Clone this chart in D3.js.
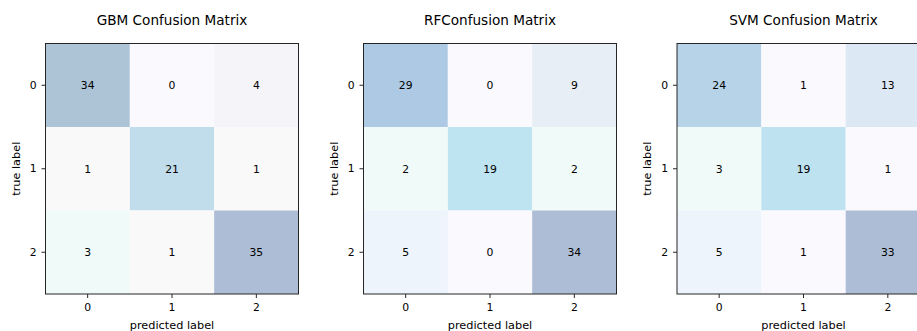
<!DOCTYPE html>
<html>
<head>
<meta charset="utf-8">
<script src="https://cdn.jsdelivr.net/npm/d3@7"></script>
<style>
  body { margin: 0; background: #fff; }
  text { font-family: "DejaVu Sans", sans-serif; fill: #000; }
</style>
</head>
<body>
<div id="app"></div>
<script>
const classes = ["0", "1", "2"];
const titles = ["GBM Confusion Matrix", "RFConfusion Matrix", "SVM Confusion Matrix"];
const gbm = [[34, 0, 4], [1, 21, 1], [3, 1, 35]];
const rf = [[29, 0, 9], [2, 19, 2], [5, 0, 34]];
const svm = [[24, 1, 13], [3, 19, 1], [5, 1, 33]];
const matrices = [gbm, rf, svm];

const width = 917;
const height = 331;
const panelLeft = [45.5, 363.5, 677];
const panelW = 253;
const panelTop = 43.5;
const panelH = 250.5;

// Blues at alpha .3, as it came out of the saved picture
const color = d3
  .scaleLinear()
  .domain([0, 0.029, 0.059, 0.086, 0.114, 0.125, 0.147, 0.265, 0.375, 0.559, 0.6, 0.719, 0.853, 0.971, 1])
  .range(["#f9f9fe", "#f9f9f9", "#f0faf8", "#f0faf8", "#f4f4f9", "#edf4fb", "#edf4fb", "#e8eef6",
          "#dce9f4", "#bee3f1", "#c1dcea", "#b6d3e7", "#adc9e3", "#adc4d6", "#adbdd5"])
  .clamp(true);

const svg = d3
  .create("svg")
  .attr("width", width)
  .attr("height", height)
  .attr("viewBox", [0, 0, width, height]);

matrices.forEach((m, k) => {
  const left = panelLeft[k];
  const x = d3.scaleBand().domain(classes).range([left, left + panelW]);
  const y = d3.scaleBand().domain(classes).range([panelTop, panelTop + panelH]);
  const flat = m.flat();
  const lo = d3.min(flat), hi = d3.max(flat);
  const norm = d3.scaleLinear().domain([lo, hi]).range([0, 1]);

  const cells = [];
  m.forEach((row, i) => row.forEach((v, j) => cells.push({ i, j, v })));

  const g = svg.append("g");

  g.selectAll("rect.cell")
    .data(cells)
    .join("rect")
    .attr("class", "cell")
    .attr("x", (d) => x(classes[d.j]))
    .attr("y", (d) => y(classes[d.i]))
    .attr("width", x.bandwidth())
    .attr("height", y.bandwidth())
    .attr("fill", (d) => color(norm(d.v)));

  g.selectAll("text.val")
    .data(cells)
    .join("text")
    .attr("class", "val")
    .attr("x", (d) => x(classes[d.j]) + x.bandwidth() / 2)
    .attr("y", (d) => y(classes[d.i]) + y.bandwidth() / 2)
    .attr("text-anchor", "middle")
    .attr("dy", "0.36em")
    .attr("font-size", 10.8)
    .text((d) => d.v);

  g.append("rect")
    .attr("x", left)
    .attr("y", panelTop)
    .attr("width", panelW)
    .attr("height", panelH)
    .attr("fill", "none")
    .attr("stroke", "#262626")
    .attr("stroke-width", 1);

  const xAxis = g
    .append("g")
    .attr("transform", `translate(0,${panelTop + panelH})`)
    .call(d3.axisBottom(x).tickSize(4).tickPadding(5.5));
  const yAxis = g
    .append("g")
    .attr("transform", `translate(${left},0)`)
    .call(d3.axisLeft(y).tickSize(4).tickPadding(5));
  [xAxis, yAxis].forEach((a) => {
    a.select(".domain").remove();
    a.selectAll("line").attr("stroke", "#262626");
    a.selectAll("text").attr("font-size", 10.8).attr("font-family", "DejaVu Sans");
  });

  g.append("text")
    .attr("x", left + panelW / 2)
    .attr("y", 25)
    .attr("text-anchor", "middle")
    .attr("font-size", 13.6)
    .text(titles[k]);

  g.append("text")
    .attr("x", left + panelW / 2)
    .attr("y", 328.5)
    .attr("text-anchor", "middle")
    .attr("font-size", 11.3)
    .text("predicted label");

  g.append("text")
    .attr("transform", `translate(${left - 26},${panelTop + panelH / 2}) rotate(-90)`)
    .attr("text-anchor", "middle")
    .attr("font-size", 11.3)
    .text("true label");
});

document.getElementById("app").append(svg.node());
</script>
</body>
</html>
